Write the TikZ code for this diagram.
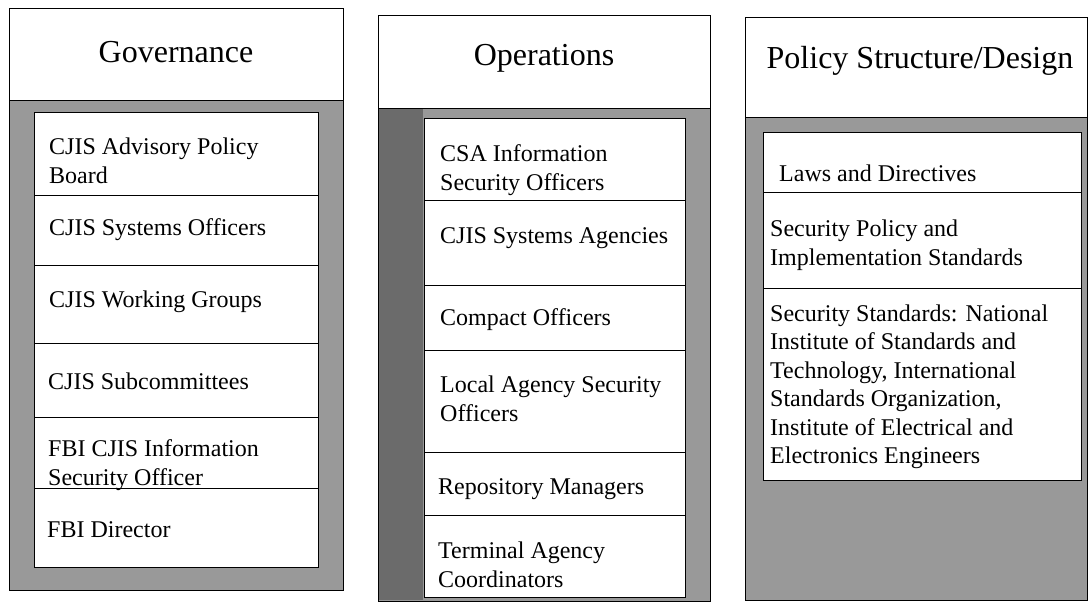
\documentclass[tikz,border=0pt]{standalone}
\usepackage{fontspec}
\setmainfont{Liberation Serif}
\tikzset{
  shadecol/.style={draw=black, line width=1.1pt, fill=black!40},
  darkstrip/.style={fill=black!58, draw=none},
  headbox/.style={draw=black, line width=1.1pt, fill=white},
  cellbox/.style={draw=black, line width=1pt, fill=white},
  titletext/.style={font=\fontsize{32}{38}\selectfont, inner sep=0pt},
  itemtext/.style={font=\fontsize{24}{28.5}\selectfont, align=left, anchor=west, inner sep=0pt},
}
\newcommand{\cellrect}[5]{% name, x1, y1, x2, y2
  \node[cellbox, anchor=north west, inner sep=0pt, minimum width={(#4-#2)*1pt}, minimum height={(#5-#3)*1pt}] (#1) at (#2,#3) {};}
\begin{document}
\begin{tikzpicture}[x=1pt, y=-1pt]
\useasboundingbox (0,0) rectangle (1088,607);
% ---------- Column 1: Governance ----------
\node[shadecol, anchor=north west, inner sep=0pt, minimum width=334pt, minimum height=582pt] (gcol) at (9,8) {};
\node[headbox, anchor=north west, inner sep=0pt, minimum width=334pt, minimum height=92pt] (ghead) at (9,8) {};
\node[titletext] (gtitle) at (176,52) {Governance};
\cellrect{g1}{34}{112}{318}{195}
\cellrect{g2}{34}{195}{318}{265}
\cellrect{g3}{34}{265}{318}{343}
\cellrect{g4}{34}{343}{318}{417}
\cellrect{g5}{34}{417}{318}{488}
\cellrect{g6}{34}{488}{318}{567}
\node[itemtext] (g1t) at (49,161) {CJIS Advisory Policy\\Board};
\node[itemtext] (g2t) at (49,230) {CJIS Systems Officers};
\node[itemtext] (g3t) at (49,302) {CJIS Working Groups};
\node[itemtext] (g4t) at (48,381) {CJIS Subcommittees};
\node[itemtext] (g5t) at (48,465) {FBI CJIS Information\\Security Officer};
\node[itemtext] (g6t) at (47,530) {FBI Director};
% ---------- Column 2: Operations ----------
\node[shadecol, anchor=north west, inner sep=0pt, minimum width=332pt, minimum height=586pt] (ocol) at (378,15) {};
\node[darkstrip, anchor=north west, inner sep=0pt, minimum width=44pt, minimum height=492pt] (ostrip) at (379,108) {};
\node[headbox, anchor=north west, inner sep=0pt, minimum width=332pt, minimum height=93pt] (ohead) at (378,15) {};
\node[titletext] (otitle) at (544,58) {Operations};
\cellrect{o1}{424}{118}{685}{200}
\cellrect{o2}{424}{200}{685}{285}
\cellrect{o3}{424}{285}{685}{350}
\cellrect{o4}{424}{350}{685}{452}
\cellrect{o5}{424}{452}{685}{515}
\cellrect{o6}{424}{515}{685}{597}
\node[itemtext] (o1t) at (440,170) {CSA Information\\Security Officers};
\node[itemtext] (o2t) at (440,238) {CJIS Systems Agencies};
\node[itemtext] (o3t) at (440,320) {Compact Officers};
\node[itemtext] (o4t) at (440,399) {Local Agency Security\\Officers};
\node[itemtext] (o5t) at (438,489) {Repository Managers};
\node[itemtext] (o6t) at (438,565) {Terminal Agency\\Coordinators};
% ---------- Column 3: Policy Structure/Design ----------
\node[shadecol, anchor=north west, inner sep=0pt, minimum width=342pt, minimum height=583pt] (pcol) at (745,17) {};
\node[headbox, anchor=north west, inner sep=0pt, minimum width=342pt, minimum height=100pt] (phead) at (745,17) {};
\node[titletext] (ptitle) at (920,61) {Policy Structure/Design};
\cellrect{p1}{763}{132}{1081}{192}
\cellrect{p2}{763}{192}{1081}{288}
\cellrect{p3}{763}{288}{1081}{480}
\node[itemtext] (p1t) at (779,173) {Laws and Directives};
\node[itemtext] (p2t) at (770,245) {Security Policy and\\Implementation Standards};
\node[itemtext] (p3t) at (770,387) {Security Standards: National\\Institute of Standards and\\Technology, International\\Standards Organization,\\Institute of Electrical and\\Electronics Engineers};
\end{tikzpicture}
\end{document}
